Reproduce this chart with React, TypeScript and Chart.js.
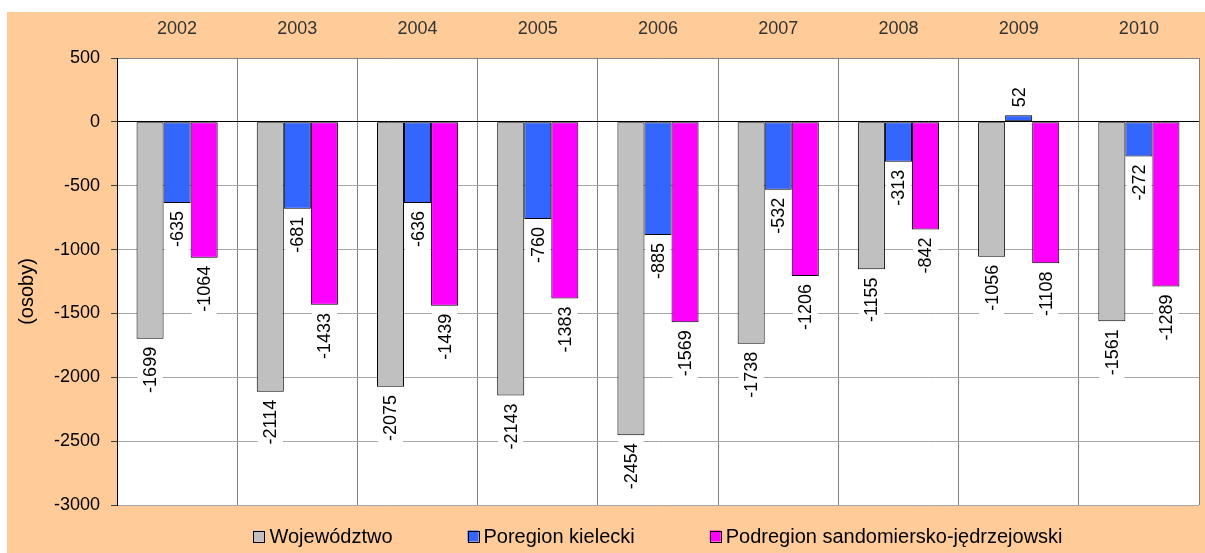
import React, { useEffect, useRef } from 'react';
import { Chart, registerables } from 'chart.js';

Chart.register(...registerables);

const years = ['2002', '2003', '2004', '2005', '2006', '2007', '2008', '2009', '2010'];
const wojewodztwo = [-1699, -2114, -2075, -2143, -2454, -1738, -1155, -1056, -1561];
const kielecki = [-635, -681, -636, -760, -885, -532, -313, 52, -272];
const sandomiersko = [-1064, -1433, -1439, -1383, -1569, -1206, -842, -1108, -1289];
const seriesNames = ['Województwo', 'Poregion kielecki', 'Podregion sandomiersko-jędrzejowski'];
const seriesColors = ['#C0C0C0', '#3366FF', '#FF00FF'];
const yMin = -3000;
const yMax = 500;
const yStep = 500;
const yTitle = '(osoby)';

const FONT = '"Liberation Sans", Arial, sans-serif';

const bgPlugin = {
  id: 'bgPlugin',
  beforeDraw(chart: any) {
    const { ctx, chartArea } = chart;
    ctx.save();
    ctx.fillStyle = '#FFCC99';
    ctx.fillRect(7, 12, chart.width - 7, chart.height - 12);
    ctx.fillStyle = '#FFFFFF';
    ctx.fillRect(chartArea.left, chartArea.top, chartArea.right - chartArea.left, chartArea.bottom - chartArea.top);
    ctx.restore();
  },
};

const labelPlugin = {
  id: 'labelPlugin',
  afterDatasetsDraw(chart: any) {
    const ctx = chart.ctx;
    ctx.save();
    ctx.font = `18px ${FONT}`;
    chart.data.datasets.forEach((ds: any, di: number) => {
      const meta = chart.getDatasetMeta(di);
      meta.data.forEach((el: any, i: number) => {
        const v = ds.data[i] as number;
        const txt = String(v);
        const tw = ctx.measureText(txt).width;
        const gap = 8;
        const w = el.width - 2;
        const x = el.x;
        let boxTop: number, boxBottom: number, cy: number;
        if (v < 0) {
          boxTop = el.y + 1;
          cy = el.y + gap + tw / 2;
          boxBottom = el.y + gap + tw + 4;
        } else {
          boxBottom = el.y - 1;
          cy = el.y - gap - tw / 2;
          boxTop = el.y - gap - tw - 4;
        }
        ctx.save();
        ctx.fillStyle = '#FFFFFF';
        ctx.fillRect(x - w / 2, boxTop, w, boxBottom - boxTop);
        ctx.translate(x, cy);
        ctx.rotate(-Math.PI / 2);
        ctx.fillStyle = '#000000';
        ctx.textAlign = 'center';
        ctx.textBaseline = 'middle';
        ctx.fillText(txt, 0, 1);
        ctx.restore();
      });
    });
    ctx.restore();
  },
};

const decorPlugin = {
  id: 'decorPlugin',
  afterDraw(chart: any) {
    const { ctx, chartArea } = chart;
    ctx.save();
    // y axis title
    ctx.font = `20px ${FONT}`;
    ctx.fillStyle = '#000000';
    ctx.translate(27, (chartArea.top + chartArea.bottom) / 2 + 10);
    ctx.rotate(-Math.PI / 2);
    ctx.textAlign = 'center';
    ctx.textBaseline = 'middle';
    ctx.fillText(yTitle, 0, 0);
    ctx.restore();

    // legend
    ctx.save();
    ctx.font = `20px ${FONT}`;
    const box = 11;
    const boxGap = 5;
    const itemGap = 75;
    const widths = seriesNames.map((n) => box + boxGap + ctx.measureText(n).width);
    const total = widths.reduce((a, b) => a + b, 0) + itemGap * (seriesNames.length - 1);
    let x = (chartArea.left + chartArea.right) / 2 - total / 2;
    const cy = chartArea.bottom + 31;
    seriesNames.forEach((n, i) => {
      ctx.fillStyle = seriesColors[i];
      ctx.fillRect(x, cy - box / 2, box, box);
      ctx.strokeStyle = '#000000';
      ctx.lineWidth = 1;
      ctx.strokeRect(Math.round(x) + 0.5, Math.round(cy - box / 2) + 0.5, box, box);
      ctx.fillStyle = '#000000';
      ctx.textAlign = 'left';
      ctx.textBaseline = 'middle';
      ctx.fillText(n, x + box + boxGap, cy + 1);
      x += widths[i] + itemGap;
    });
    ctx.restore();
  },
};

export default function App() {
  const canvasRef = useRef<HTMLCanvasElement | null>(null);

  useEffect(() => {
    const canvas = canvasRef.current;
    if (!canvas) return;
    const values = [wojewodztwo, kielecki, sandomiersko];
    const chart = new Chart(canvas, {
      type: 'bar',
      data: {
        labels: years,
        datasets: values.map((d, i) => ({
          label: seriesNames[i],
          data: d,
          backgroundColor: seriesColors[i],
          borderColor: '#000000',
          borderWidth: 1,
          borderSkipped: false,
          categoryPercentage: 0.675,
          barPercentage: 1,
        })),
      },
      options: {
        responsive: false,
        animation: false,
        devicePixelRatio: 1,
        layout: { padding: { left: 0, top: 0, right: 6, bottom: 48 } },
        plugins: {
          legend: { display: false },
          tooltip: { enabled: false },
        },
        scales: {
          x: {
            position: 'top',
            grid: { offset: true, color: '#808080', drawTicks: false },
            border: { display: true, color: '#808080' },
            ticks: { font: { size: 18, family: FONT }, color: '#333333', padding: 18 },
            afterFit(s: any) {
              s.height = 58;
            },
          },
          y: {
            min: yMin,
            max: yMax,
            ticks: {
              stepSize: yStep,
              font: { size: 18, family: FONT },
              color: '#000000',
              padding: 11,
              callback: (v: any) => String(v),
            },
            grid: {
              color: (c: any) => (c.tick && c.tick.value === 0 ? '#000000' : '#A6A6A6'),
              tickColor: '#404040',
              tickLength: 6,
            },
            border: { display: true, color: '#000000' },
            afterFit(s: any) {
              s.width = 117;
            },
          },
        },
      },
      plugins: [bgPlugin, labelPlugin, decorPlugin],
    } as any);
    return () => chart.destroy();
  }, []);

  return (
    <div style={{ position: 'absolute', left: 0, top: 0, width: 1205, height: 553 }}>
      <canvas ref={canvasRef} width={1205} height={553} style={{ display: 'block', width: 1205, height: 553 }} />
    </div>
  );
}
